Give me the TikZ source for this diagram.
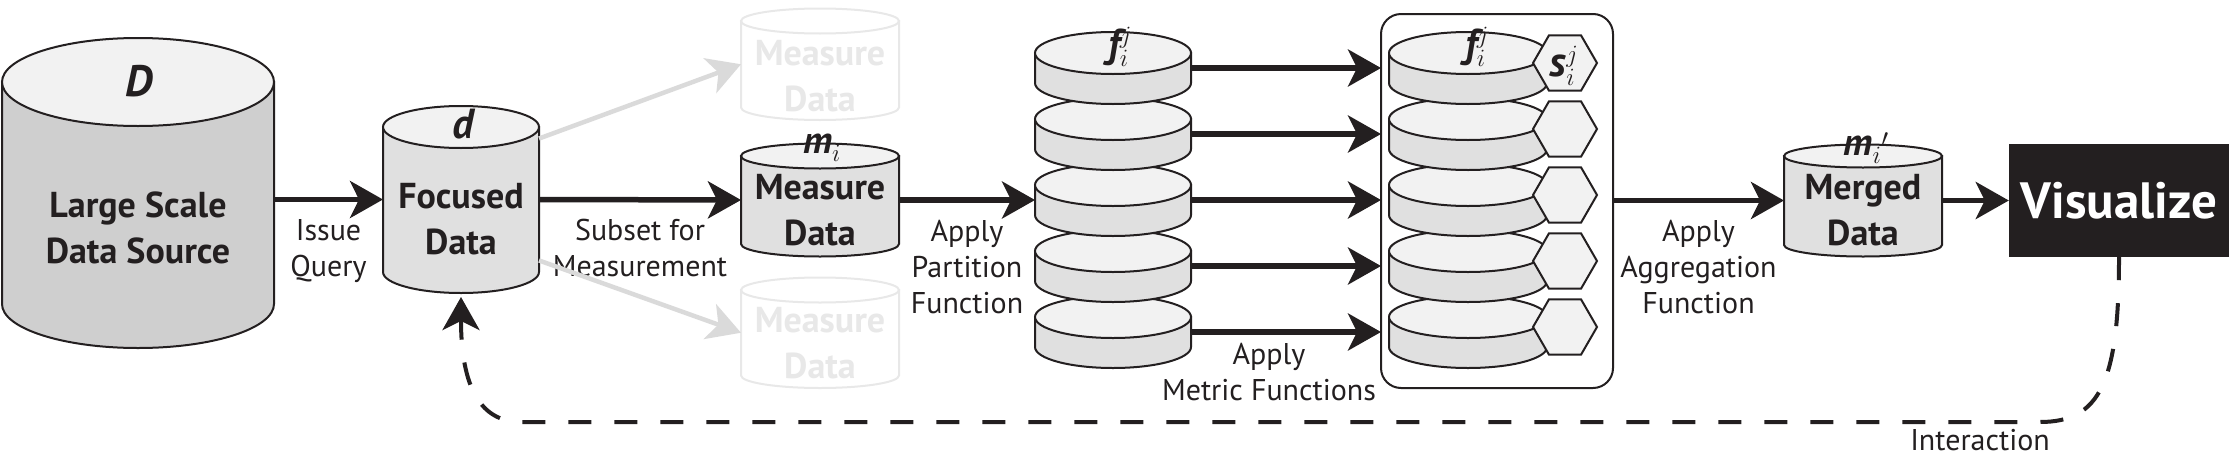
\documentclass[tikz,border=0pt]{standalone}
\usepackage{fontspec}
\setmainfont{PT Sans}
\usetikzlibrary{arrows.meta,positioning,shapes.geometric}

\definecolor{ink}{HTML}{231F20}
\definecolor{lidgray}{HTML}{F2F2F2}
\definecolor{bodygray}{HTML}{E0E0E0}
\definecolor{deepgray}{HTML}{CFCFCF}
\definecolor{ghostline}{HTML}{E8E8E8}
\definecolor{ghostarrow}{HTML}{DADADA}

\tikzset{
  drumline/.style={draw=ink, line width=2pt},
  ghostdrum/.style={draw=ghostline, line width=2pt, fill=white},
  hole/.style={inner sep=0pt, outer sep=0pt},
  flow/.style={draw=ink, line width=5.5pt, -{Stealth[length=33pt, width=37pt, inset=9pt]}},
  ghostflow/.style={flow, draw=ghostarrow, line width=4.5pt},
  loopback/.style={flow, line width=4pt, dash pattern=on 23pt off 23pt},
  lbl/.style={font=\fontsize{30}{36}\selectfont, text=ink, align=center, inner sep=0pt},
  title/.style={font=\fontsize{36}{46}\selectfont\bfseries, text=ink, align=center, inner sep=0pt},
  ghosttitle/.style={title, text=ghostline},
  sym/.style={font=\fontsize{40}{42}\selectfont\bfseries\itshape, text=ink, inner sep=0pt},
  hexcell/.style={regular polygon, regular polygon sides=6, minimum size=64pt, inner sep=0pt, draw=ink, line width=2pt, fill=lidgray},
}

% drum: name, centre x, lid y, base y, x radius, y radius, body fill, line style
\newcommand{\drum}[8]{%
  \filldraw[fill=#7, #8] (#2-#5,#3) -- (#2-#5,#4)
    arc[start angle=180, end angle=360, x radius=#5pt, y radius=#6pt] -- (#2+#5,#3) -- cycle;
  \filldraw[fill=lidgray, #8] (#2,#3) ellipse[x radius=#5pt, y radius=#6pt];
  \node[hole, minimum width=2*#5pt, minimum height={(#4-#3+2*#6)*1pt}] (#1) at (#2,{(#3+#4)/2}) {};
}

\begin{document}
\begin{tikzpicture}[x=1pt, y=-1pt]
  \useasboundingbox (0,0) rectangle (2229,458);

  % Source and focused data
  \drum{D}{138}{82}{304}{136}{44}{deepgray}{drumline}
  \node[sym, font=\fontsize{44}{46}\selectfont\bfseries\itshape] (Dsym) at (139,81) {D};
  \node[title] (Dtitle) at (138,228) {Large Scale\\Data Source};
  \drum{d}{461}{127}{272}{78}{21}{bodygray}{drumline}
  \node[sym, font=\fontsize{42}{44}\selectfont\bfseries\itshape] (dsym) at (463,124) {d};
  \node[title] (dtitle) at (461,219) {Focused\\Data};

  % Measure data
  \drum{gup}{820}{21}{107.5}{79}{12.5}{white}{ghostdrum}
  \node[ghosttitle] (guptitle) at (820,76) {Measure\\Data};
  \drum{gdown}{820}{290}{375.5}{79}{12.5}{white}{ghostdrum}
  \node[ghosttitle] (gdowntitle) at (820,343) {Measure\\Data};
  \drum{mi}{820}{156}{244}{79}{12.5}{bodygray}{drumline}
  \node[sym, font=\fontsize{38}{40}\selectfont\bfseries\itshape] (misym) at (822,148) {m$_{\textstyle i}$};
  \node[title] (mititle) at (820,210) {Measure\\Data};

  % Partitions
  \foreach \k in {5,4,3,2,1}{
    \pgfmathsetmacro\lid{53+66*(\k-1)}
    \drum{f\k}{1113}{\lid}{\lid+30}{78}{21}{bodygray}{drumline}
  }
  \node[sym] (fsym) at (1120,47) {f$_i^j$};

  % Partitions with metrics
  \node[hole, draw=ink, line width=2pt, rounded corners=20pt, minimum width=232pt, minimum height=374pt] (box) at (1497,201) {};
  \foreach \k in {5,4,3,2,1}{
    \pgfmathsetmacro\lid{53+66*(\k-1)}
    \drum{g\k}{1468}{\lid}{\lid+30}{79}{21}{bodygray}{drumline}
    \node[hexcell] (s\k) at (1565,\lid+10) {};
  }
  \node[sym] (gsym) at (1477,47) {f$_i^j$};
  \node[sym, font=\fontsize{42}{44}\selectfont\bfseries\itshape] (ssym) at (1564,66) {s$_i^j$};

  % Merged data and output
  \drum{merged}{1863}{156}{245}{79}{11.5}{bodygray}{drumline}
  \node[sym, font=\fontsize{38}{40}\selectfont\bfseries\itshape] (msym) at (1866,148) {m$_{\textstyle i}{}'$};
  \node[title] (mtitle) at (1863,210) {Merged\\Data};
  \node[fill=ink, text=white, font=\fontsize{51}{54}\selectfont\bfseries, minimum width=220pt, minimum height=113pt, inner sep=0pt] (vis) at (2119,200.5) {Visualize};

  % Flow
  \draw[flow] (D.east |- d.west) -- node[lbl, below=17pt] (q1) {Issue\\Query} (d.west);
  \draw[flow] (d.east) -- node[lbl, below=17pt] (q2) {Subset for\\Measurement} (mi.west);
  \draw[ghostflow] (d.38) -- (gup.west);
  \draw[ghostflow] (d.-38) -- (gdown.west);
  \draw[flow] (mi.east) -- node[lbl, below=17pt] (q3) {Apply\\Partition\\Function} (f3.west);
  \foreach \k in {1,...,5}
    \draw[flow] (f\k.east) -- (f\k.east -| box.west);
  \node[lbl, anchor=north] (q4) at (1269,343) {Apply\\Metric Functions};
  \draw[flow] (box.east |- merged.west) -- node[lbl, below=17pt] (q5) {Apply\\Aggregation\\Function} (merged.west);
  \draw[flow] (merged.east) -- (vis.west);

  % Interaction loop
  \coordinate (ir) at (2040,422);
  \coordinate (il) at (521,422);
  \draw[loopback, shorten >=4pt] (vis.south) .. controls +(0,125) and +(60,0) .. (ir) -- (il) .. controls +(-40,0) and +(0,95) .. (d.south);
  \node[lbl, anchor=north] (inter) at (1980,429) {Interaction};
\end{tikzpicture}
\end{document}
